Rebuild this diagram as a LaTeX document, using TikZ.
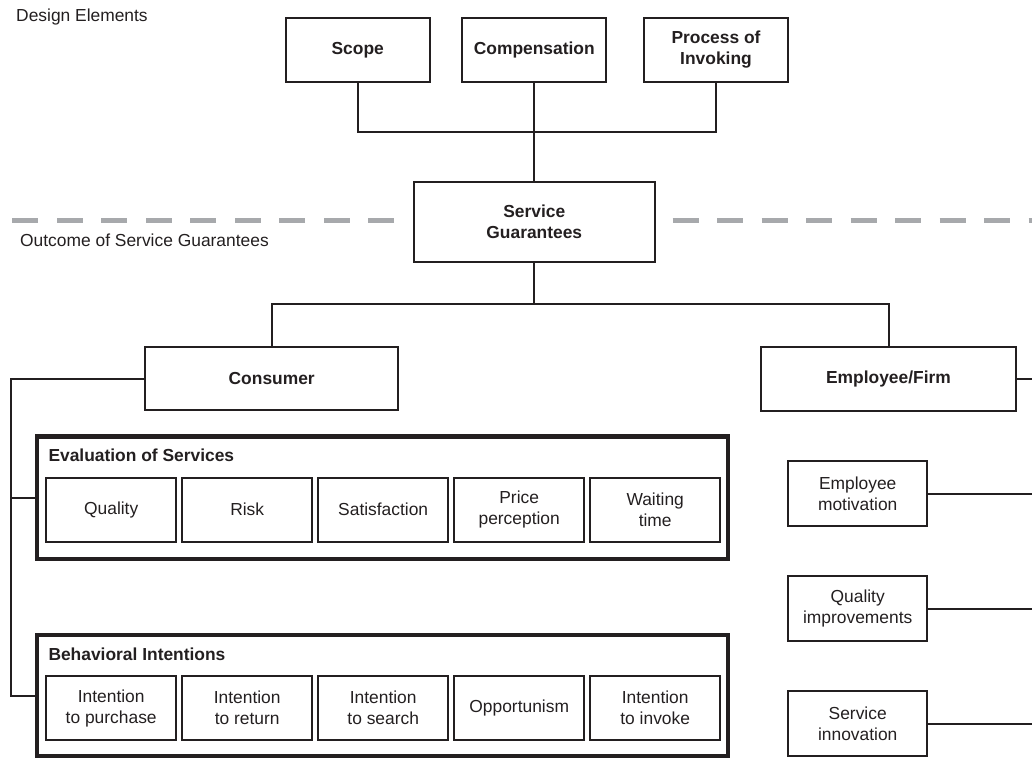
\documentclass[tikz,border=0pt]{standalone}
\usepackage{fontspec}
\setmainfont{Liberation Sans}
\definecolor{ink}{HTML}{231F20}
\definecolor{dashgray}{HTML}{A7A9AC}
\begin{document}
\begin{tikzpicture}[x=1pt,y=-1pt,
  txt/.style={text=ink, font=\fontsize{17.4}{21}\selectfont},
  box/.style={txt, draw=ink, line width=2pt, inner sep=0pt, align=center,
              minimum width=144pt, minimum height=64pt},
  bbox/.style={box, font=\fontsize{17.4}{21}\selectfont\bfseries},
  ibox/.style={box, minimum width=130.3pt, minimum height=64pt},
  rbox/.style={box, minimum width=139.3pt, minimum height=64.7pt},
  frame/.style={draw=ink, line width=4.5pt, inner sep=0pt, minimum width=690.8pt},
  ttl/.style={txt, font=\fontsize{17.4}{21}\selectfont\bfseries, anchor=west, inner sep=0pt},
  lbl/.style={txt, anchor=west, inner sep=0pt},
  conn/.style={draw=ink, line width=2pt},
  sep/.style={draw=dashgray, line width=5pt, dash pattern=on 26pt off 18.5pt}
]
\useasboundingbox (0,0) rectangle (1032,758);

% section labels
\node[lbl] (lde) at (16,16.7) {Design Elements};
\node[lbl] (lout) at (20,240.7) {Outcome of Service Guarantees};

% separator
\coordinate (sl0) at (394,220);
\coordinate (sl1) at (8.3,220);
\coordinate (sr0) at (672.7,220);
\coordinate (sr1) at (1034,220);
\draw[sep] (sl0) -- (sl1);
\draw[sep] (sr0) -- (sr1);

% design elements
\node[bbox] (scope) at (357.7,50) {Scope};
\node[bbox] (comp) at (534.3,50) {Compensation};
\node[bbox] (proc) at (716,50) {Process of\\Invoking};

% service guarantees
\node[bbox, minimum width=241.3pt, minimum height=80pt] (sg) at (534.3,222) {Service\\Guarantees};

\coordinate (j1) at (534.3,131.7);
\draw[conn] (scope.south) -- (scope.south |- j1) -- (proc.south |- j1) -- (proc.south);
\draw[conn] (comp.south) -- (sg.north);

% outcomes
\node[bbox, minimum width=253.3pt, minimum height=63.5pt] (cons) at (271.7,378.5) {Consumer};
\node[bbox, minimum width=254.3pt] (emp) at (888.5,378.5) {Employee/Firm};

\coordinate (j2) at (534.3,304);
\draw[conn] (sg.south) -- (j2);
\draw[conn] (cons.north) |- (j2) -| (emp.north);

% evaluation of services
\node[frame, minimum height=122.3pt] (eval) at (382.6,497.7) {};
\node[ttl] (evalt) at (48.3,455.7) {Evaluation of Services};
\node[ibox] (e1) at (111.2,509.7) {Quality};
\node[ibox] (e2) at (247.2,509.7) {Risk};
\node[ibox] (e3) at (383.2,509.7) {Satisfaction};
\node[ibox] (e4) at (519.2,509.7) {Price\\perception};
\node[ibox] (e5) at (655.2,509.7) {Waiting\\time};

% behavioral intentions
\node[frame, minimum height=121pt] (beh) at (382.6,695.5) {};
\node[ttl] (beht) at (48.3,654) {Behavioral Intentions};
\node[ibox] (b1) at (111.2,708.2) {Intention\\to purchase};
\node[ibox] (b2) at (247.2,708.2) {Intention\\to return};
\node[ibox] (b3) at (383.2,708.2) {Intention\\to search};
\node[ibox] (b4) at (519.2,708.2) {Opportunism};
\node[ibox] (b5) at (655.2,708.2) {Intention\\to invoke};

% consumer spine
\coordinate (lt) at (11,378.5);
\draw[conn] (cons.west) -- (lt) |- (beh.west);
\draw[conn] (lt |- eval.west) -- (eval.west);

% employee/firm side
\node[rbox] (r1) at (857.7,493.7) {Employee\\motivation};
\node[rbox] (r2) at (857.7,608.5) {Quality\\improvements};
\node[rbox] (r3) at (857.7,723.5) {Service\\innovation};

\coordinate (redge) at (1034,0);
\draw[conn] (emp.east) -- (emp.east -| redge);
\draw[conn] (r1.east) -- (r1.east -| redge);
\draw[conn] (r2.east) -- (r2.east -| redge);
\draw[conn] (r3.east) -- (r3.east -| redge);
\end{tikzpicture}
\end{document}
